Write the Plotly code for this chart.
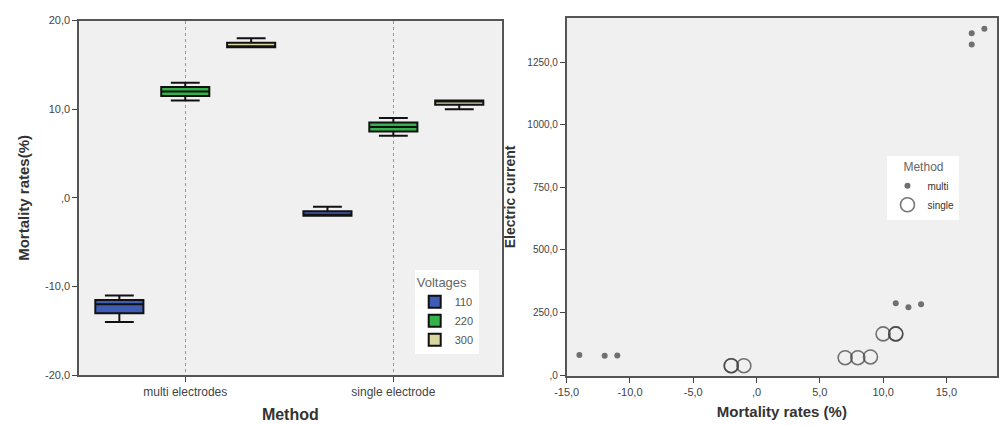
import plotly.graph_objects as go

# ---------------- data ----------------
methods = ["multi electrodes", "single electrode"]
voltages = ["110", "220", "300"]
mort_110_multi = [-14, -12, -11]
mort_110_single = [-2, -2, -1]
mort_220_multi = [11, 12, 13]
mort_220_single = [7, 8, 9]
mort_300_multi = [17, 17, 18]
mort_300_single = [10, 11, 11]

multi_mort = [-14, -12, -11, 11, 12, 13, 17, 17, 18]
multi_current = [81, 78, 79, 287, 271, 283, 1365, 1320, 1383]
single_mort = [-2, -2, -1, 7, 8, 9, 10, 11, 11]
single_current = [38, 38, 38, 70, 70, 73, 165, 165, 165]

left_yticks = [-20, -10, 0, 10, 20]
left_yticktext = ["-20,0", "-10,0", ",0", "10,0", "20,0"]
right_xticks = [-15, -10, -5, 0, 5, 10, 15]
right_xticktext = ["-15,0", "-10,0", "-5,0", ",0", "5,0", "10,0", "15,0"]
right_yticks = [0, 250, 500, 750, 1000, 1250]
right_yticktext = [",0", "250,0", "500,0", "750,0", "1000,0", "1250,0"]

box_colors = {"110": "#3f5db5", "220": "#35b24a", "300": "#d9d6a2"}
box_data = {
    "110": mort_110_multi + mort_110_single,
    "220": mort_220_multi + mort_220_single,
    "300": mort_300_multi + mort_300_single,
}

FONT = "Liberation Sans, Arial, sans-serif"
fig = go.Figure()

for v in voltages:
    fig.add_trace(go.Box(
        x=[methods[0]] * 3 + [methods[1]] * 3,
        y=box_data[v],
        name=v,
        fillcolor=box_colors[v],
        line=dict(color="#111111", width=2),
        whiskerwidth=0.6,
        boxpoints=False,
        quartilemethod="inclusive",
        xaxis="x", yaxis="y",
        legend="legend",
    ))

fig.add_trace(go.Scatter(
    x=multi_mort, y=multi_current, mode="markers", name="multi",
    marker=dict(size=6, color="#707070"),
    xaxis="x2", yaxis="y2", legend="legend2",
))
fig.add_trace(go.Scatter(
    x=single_mort, y=single_current, mode="markers", name="single",
    marker=dict(size=14, symbol="circle-open", color="rgba(60,60,60,0.7)",
                line=dict(width=1.6)),
    xaxis="x2", yaxis="y2", legend="legend2",
))

axis_common = dict(
    showline=True, linecolor="#555555", linewidth=1.5, mirror=True,
    ticks="outside", ticklen=5, tickcolor="#444444",
    zeroline=False,
)

fig.update_layout(
    width=999, height=425,
    margin=dict(l=0, r=0, t=0, b=0),
    paper_bgcolor="white",
    plot_bgcolor="#f0f0f0",
    boxmode="group",
    boxgap=0.05,
    boxgroupgap=0.27,
    font=dict(family=FONT, color="#333333"),
    xaxis=dict(
        domain=[67 / 999, 495 / 999], anchor="y",
        type="category", range=[-0.51, 1.52],
        showgrid=True, gridcolor="#999999", griddash="dot", gridwidth=1,
        tickfont=dict(family=FONT, size=12, color="#444444"),
        title=dict(text="<b>Method</b>", font=dict(family=FONT, size=16, color="#333333"), standoff=10),
        **axis_common,
    ),
    yaxis=dict(
        domain=[45 / 425, 410 / 425], anchor="x",
        range=[-20, 20], tickvals=left_yticks, ticktext=left_yticktext,
        showgrid=False,
        tickfont=dict(family=FONT, size=11, color="#444444"),
        title=dict(text="<b>Mortality rates(%)</b>", font=dict(family=FONT, size=15, color="#333333"), standoff=12),
        **axis_common,
    ),
    xaxis2=dict(
        domain=[561 / 999, 997 / 999], anchor="y2",
        range=[-15, 19], tickvals=right_xticks, ticktext=right_xticktext,
        showgrid=False,
        tickfont=dict(family=FONT, size=11, color="#444444"),
        title=dict(text="<b>Mortality rates (%)</b>", font=dict(family=FONT, size=15, color="#333333"), standoff=9),
        **axis_common,
    ),
    yaxis2=dict(
        domain=[44 / 425, 413 / 425], anchor="x2",
        range=[-4, 1427], tickvals=right_yticks, ticktext=right_yticktext,
        showgrid=False,
        tickfont=dict(family=FONT, size=10, color="#444444"),
        title=dict(text="<b>Electric current</b>", font=dict(family=FONT, size=14, color="#333333"), standoff=8),
        **axis_common,
    ),
    legend=dict(
        x=407 / 999, y=(425 - 272) / 425, xanchor="left", yanchor="top",
        bgcolor="white", borderwidth=0,
        title=dict(text="Voltages", font=dict(family=FONT, size=13, color="#666666")),
        font=dict(family=FONT, size=11, color="#555555"),
        tracegroupgap=0, itemwidth=30,
    ),
    legend2=dict(
        x=886 / 999, y=(425 - 154) / 425, xanchor="left", yanchor="top",
        bgcolor="white", borderwidth=0,
        title=dict(text="Method", side="top center", font=dict(family=FONT, size=12, color="#666666")),
        font=dict(family=FONT, size=10, color="#333333"),
        tracegroupgap=0, itemwidth=30,
    ),
)

fig.write_html("out.html")
